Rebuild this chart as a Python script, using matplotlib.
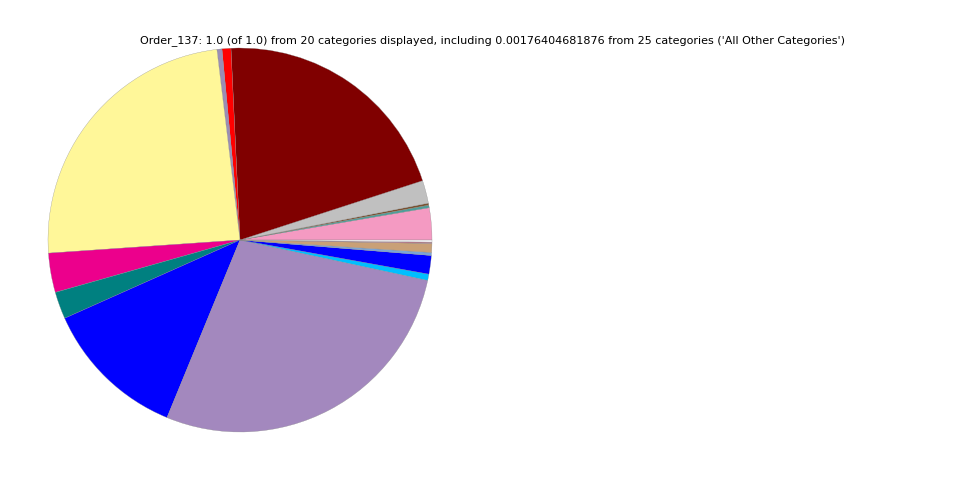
import matplotlib
matplotlib.use('Agg')
import matplotlib.pyplot as plt

# slice fractions, counterclockwise from 3 o'clock
fractions = [0.0269, 0.0022, 0.0017, 0.0192, 0.2075, 0.0075, 0.0042, 0.2417,
             0.0331, 0.0228, 0.1211, 0.2783, 0.0053, 0.0156, 0.0025, 0.0075,
             0.0011, 0.00176404681876]
colors = ['#F49AC2', '#4E9E9A', '#7A5230', '#C0C0C0', '#800000', '#FF0000',
          '#9B8DB5', '#FFF799', '#EC008C', '#008080', '#0000FF', '#A388BE',
          '#00BFFF', '#0000FF', '#7BA4D6', '#C9A077', '#B8788A', '#F4F0F4']
title = ("Order_137: 1.0 (of 1.0) from 20 categories displayed, including "
         "0.00176404681876 from 25 categories ('All Other Categories')")

fig = plt.figure(figsize=(9.6, 4.8), dpi=100)
ax = fig.add_axes([48/960, 48/480, 384/960, 384/480])
ax.pie(fractions, colors=colors, startangle=0, counterclock=True,
       wedgeprops={'linewidth': 0.2, 'edgecolor': '#888888'})
ax.set_aspect('equal')
ax.set_xlim(-1.0, 1.0)
ax.set_ylim(-1.0, 1.0)
ax.axis('off')

fig.text(493/960, 439/480, title, ha='center', va='center', fontsize=8)

plt.savefig('out.png', dpi=100)
